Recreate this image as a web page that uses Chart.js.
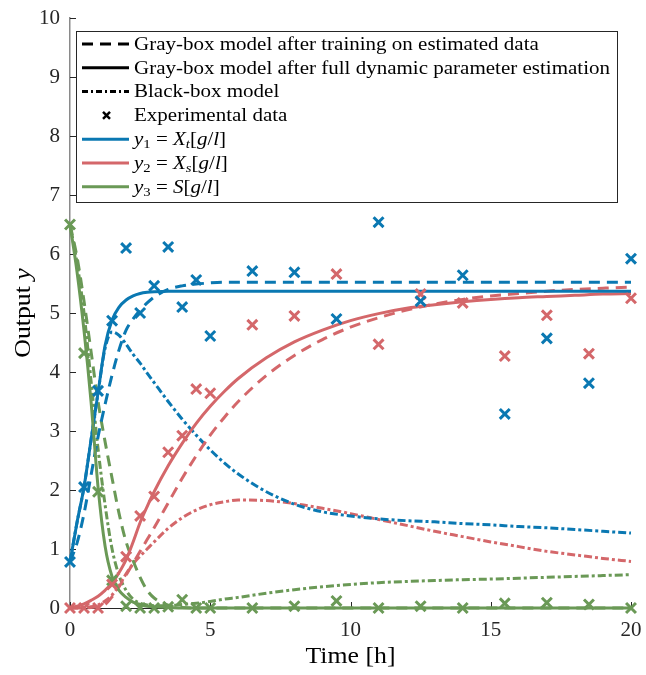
<!DOCTYPE html>
<html>
<head>
<meta charset="utf-8">
<script src="https://cdn.jsdelivr.net/npm/chart.js@4.4.0/dist/chart.umd.min.js"></script>
<style>
  html, body { margin: 0; padding: 0; background: #fff; }
  #wrap { width: 646px; height: 675px; }
</style>
</head>
<body>
<div id="wrap"><canvas id="chart"></canvas></div>
<script>
// Experimental data (time in h, outputs in g/l)
const tData = [0, 0.5, 1, 1.5, 2, 2.5, 3, 3.5, 4, 4.5, 5, 6.5, 8, 9.5, 11, 12.5, 14, 15.5, 17, 18.5, 20];
const y1Data = [0.78, 2.05, 3.68, 4.87, 6.1, 5.0, 5.46, 6.12, 5.1, 5.56, 4.61, 5.71, 5.69, 4.9, 6.54, 5.2, 5.64, 3.29, 4.57, 3.81, 5.92];
const y2Data = [0, 0, 0, 0.4, 0.87, 1.56, 1.89, 2.64, 2.92, 3.71, 3.64, 4.8, 4.95, 5.66, 4.47, 5.32, 5.17, 4.27, 4.96, 4.31, 5.25];
const y3Data = [6.5, 4.32, 1.97, 0.47, 0.03, 0, 0, 0.02, 0.14, 0, 0, 0, 0.03, 0.12, 0, 0.03, 0, 0.08, 0.09, 0.06, 0];

// Model simulations, sampled on one time grid
const tModel = [0, 0.25, 0.5, 0.75, 1, 1.25, 1.5, 1.75, 2, 2.25, 2.5, 2.75, 3, 3.5, 4, 4.5, 5, 5.5, 6, 7, 8, 9, 10, 11, 12, 13, 14, 15, 16, 17, 18, 19, 20];

// gray-box after training on estimated data (dashed)
const y1Train = [0.78, 1.1, 1.6, 2.25, 2.9, 3.45, 3.95, 4.38, 4.71, 4.9, 5.05, 5.17, 5.27, 5.4, 5.46, 5.49, 5.51, 5.52, 5.52, 5.52, 5.52, 5.52, 5.52, 5.52, 5.52, 5.52, 5.52, 5.52, 5.52, 5.52, 5.52, 5.52, 5.52];
const y2Train = [0, 0, 0, 0.01, 0.02, 0.06, 0.19, 0.36, 0.56, 0.76, 0.96, 1.16, 1.36, 1.78, 2.2, 2.58, 2.93, 3.23, 3.5, 3.94, 4.28, 4.55, 4.76, 4.92, 5.05, 5.15, 5.23, 5.29, 5.33, 5.37, 5.4, 5.42, 5.44];
const y3Train = [6.5, 5.95, 5.2, 4.35, 3.5, 2.82, 2.2, 1.6, 1.12, 0.8, 0.52, 0.3, 0.17, 0.05, 0.01, 0, 0, 0, 0, 0, 0, 0, 0, 0, 0, 0, 0, 0, 0, 0, 0, 0, 0];

// gray-box after full dynamic parameter estimation (solid)
const y1Full = [0.78, 1.45, 2.05, 2.85, 3.65, 4.45, 4.88, 5.1, 5.22, 5.29, 5.33, 5.35, 5.36, 5.37, 5.37, 5.37, 5.37, 5.37, 5.37, 5.37, 5.37, 5.37, 5.37, 5.37, 5.37, 5.37, 5.37, 5.37, 5.37, 5.37, 5.37, 5.37, 5.37];
const y2Full = [0, 0.03, 0.07, 0.13, 0.2, 0.3, 0.42, 0.6, 0.82, 1.12, 1.45, 1.72, 1.97, 2.41, 2.79, 3.13, 3.42, 3.67, 3.89, 4.24, 4.51, 4.71, 4.87, 4.99, 5.08, 5.14, 5.19, 5.23, 5.26, 5.28, 5.3, 5.32, 5.33];
const y3Full = [6.5, 5.7, 4.7, 3.5, 2.05, 1.05, 0.53, 0.3, 0.18, 0.1, 0.06, 0.03, 0.02, 0.01, 0, 0, 0, 0, 0, 0, 0, 0, 0, 0, 0, 0, 0, 0, 0, 0, 0, 0, 0];

// black-box model (dash-dot)
const y1Black = [0.78, 1.45, 2.05, 2.85, 3.65, 4.4, 4.68, 4.62, 4.47, 4.3, 4.15, 3.98, 3.82, 3.5, 3.2, 2.93, 2.68, 2.46, 2.27, 1.97, 1.76, 1.63, 1.56, 1.51, 1.48, 1.46, 1.43, 1.41, 1.38, 1.36, 1.33, 1.3, 1.27];
const y2Black = [0, 0, 0.01, 0.02, 0.05, 0.12, 0.22, 0.38, 0.58, 0.75, 0.88, 1.0, 1.12, 1.35, 1.53, 1.66, 1.75, 1.8, 1.83, 1.82, 1.77, 1.69, 1.6, 1.5, 1.4, 1.3, 1.21, 1.12, 1.04, 0.96, 0.9, 0.84, 0.79];
const y3Black = [6.5, 5.85, 5.0, 3.85, 2.7, 1.75, 1.0, 0.55, 0.3, 0.15, 0.08, 0.05, 0.04, 0.04, 0.06, 0.08, 0.11, 0.15, 0.18, 0.25, 0.31, 0.36, 0.4, 0.43, 0.45, 0.465, 0.48, 0.49, 0.505, 0.52, 0.535, 0.55, 0.565];

const xTicks = [0, 5, 10, 15, 20];
const yTicks = [0, 1, 2, 3, 4, 5, 6, 7, 8, 9, 10];

const BLUE = "#0a78b2";
const RED = "#d4676a";
const GREEN = "#6a9956";
const SERIF = '"Liberation Serif", "DejaVu Serif", serif';

const DASHED = [11, 7];
const DASHDOT = [8, 3, 3, 3];

function pts(ts, ys) {
  return ts.map((t, i) => ({ x: t, y: ys[i] }));
}

function modelLine(values, color, dash) {
  return {
    type: "line",
    data: pts(tModel, values),
    borderColor: color,
    borderWidth: 3,
    borderDash: dash,
    pointRadius: 0,
    fill: false,
    cubicInterpolationMode: "monotone",
    clip: false,
  };
}

function expPoints(values, color) {
  return {
    type: "scatter",
    data: pts(tData, values),
    pointStyle: "crossRot",
    pointRadius: 7,
    pointBorderWidth: 3,
    borderColor: color,
    backgroundColor: color,
    showLine: false,
    clip: false,
  };
}

// legend entries: marker style + text pieces
const legendRows = [
  { kind: "line", color: "#000", dash: DASHED, parts: [{ t: "Gray-box model after training on estimated data" }] },
  { kind: "line", color: "#000", dash: [], parts: [{ t: "Gray-box model after full dynamic parameter estimation" }] },
  { kind: "line", color: "#000", dash: [6, 3, 2, 3], parts: [{ t: "Black-box model" }] },
  { kind: "mark", color: "#000", parts: [{ t: "Experimental data" }] },
  { kind: "line", color: BLUE, dash: [], parts: [{ t: "y", it: 1 }, { t: "1", sub: 1 }, { t: " = " }, { t: "X", it: 1 }, { t: "t", it: 1, sub: 1 }, { t: "[" }, { t: "g", it: 1 }, { t: "/" }, { t: "l", it: 1 }, { t: "]" }] },
  { kind: "line", color: RED, dash: [], parts: [{ t: "y", it: 1 }, { t: "2", sub: 1 }, { t: " = " }, { t: "X", it: 1 }, { t: "s", it: 1, sub: 1 }, { t: "[" }, { t: "g", it: 1 }, { t: "/" }, { t: "l", it: 1 }, { t: "]" }] },
  { kind: "line", color: GREEN, dash: [], parts: [{ t: "y", it: 1 }, { t: "3", sub: 1 }, { t: " = " }, { t: "S", it: 1 }, { t: "[" }, { t: "g", it: 1 }, { t: "/" }, { t: "l", it: 1 }, { t: "]" }] },
];

function partsWidth(ctx, parts, size) {
  let w = 0;
  for (const p of parts) {
    const fs = p.sub ? size * 0.7 : size;
    ctx.font = (p.it ? "italic " : "") + fs + "px " + SERIF;
    w += ctx.measureText(p.t).width;
  }
  return w;
}

// draws mixed regular/italic/subscript text, stretched horizontally by sx
function drawParts(ctx, parts, x, y, size, sx) {
  ctx.save();
  ctx.translate(x, y);
  ctx.scale(sx, 1);
  let cx = 0;
  for (const p of parts) {
    const fs = p.sub ? size * 0.7 : size;
    ctx.font = (p.it ? "italic " : "") + fs + "px " + SERIF;
    ctx.fillText(p.t, cx, p.sub ? size * 0.25 : 0);
    cx += ctx.measureText(p.t).width;
  }
  ctx.restore();
}

const decorPlugin = {
  id: "decor",
  beforeDatasetsDraw(chart) {
    const { ctx, chartArea, scales } = chart;
    ctx.save();
    ctx.strokeStyle = "#262626";
    ctx.lineWidth = 1;
    ctx.beginPath();
    yTicks.forEach((v) => {
      const py = Math.round(scales.y.getPixelForValue(v)) + 0.5;
      ctx.moveTo(chartArea.left, py);
      ctx.lineTo(chartArea.left + 6, py);
    });
    xTicks.forEach((v) => {
      const px = Math.round(scales.x.getPixelForValue(v)) + 0.5;
      ctx.moveTo(px, chartArea.bottom);
      ctx.lineTo(px, chartArea.bottom - 6);
    });
    ctx.stroke();
    ctx.restore();
  },
  afterDraw(chart) {
    const { ctx, chartArea } = chart;
    ctx.save();
    ctx.fillStyle = "#000";
    ctx.textBaseline = "middle";
    ctx.textAlign = "left";

    // x title
    const xParts = [{ t: "Time [h]" }];
    const xs = 1.12;
    const xw = partsWidth(ctx, xParts, 23) * xs;
    drawParts(ctx, xParts, (chartArea.left + chartArea.right) / 2 - xw / 2, 657, 23, xs);

    // y title
    ctx.save();
    ctx.translate(24, 313);
    ctx.rotate(-Math.PI / 2);
    const yParts = [{ t: "Output " }, { t: "y", it: 1 }];
    const yw = partsWidth(ctx, yParts, 23) * xs;
    drawParts(ctx, yParts, -yw / 2, 0, 23, xs);
    ctx.restore();

    // legend box
    const bx = 76, by = 31, bw = 541, bh = 171;
    ctx.fillStyle = "#fff";
    ctx.fillRect(bx, by, bw, bh);
    ctx.strokeStyle = "#262626";
    ctx.lineWidth = 1;
    ctx.strokeRect(bx + 0.5, by + 0.5, bw, bh);

    const lsize = 18;
    const lstretch = 476 / partsWidth(ctx, legendRows[1].parts, lsize);
    legendRows.forEach((row, i) => {
      const cy = 44 + i * 23.8;
      ctx.strokeStyle = row.color;
      ctx.fillStyle = row.color;
      if (row.kind === "line") {
        ctx.lineWidth = 3;
        ctx.setLineDash(row.dash);
        ctx.beginPath();
        ctx.moveTo(82, cy);
        ctx.lineTo(129, cy);
        ctx.stroke();
        ctx.setLineDash([]);
      } else {
        ctx.lineWidth = 2.5;
        ctx.beginPath();
        ctx.moveTo(103, cy - 3.5);
        ctx.lineTo(110, cy + 3.5);
        ctx.moveTo(110, cy - 3.5);
        ctx.lineTo(103, cy + 3.5);
        ctx.stroke();
      }
      ctx.fillStyle = "#000";
      drawParts(ctx, row.parts, 134, cy + 1, lsize, lstretch);
    });
    ctx.restore();
  },
};

// drop the automatic label overhang so the plot box lands where the layout padding says
function noOverhang(scale) {
  scale.paddingTop = 0;
  scale.paddingBottom = 0;
  scale.paddingLeft = 0;
  scale.paddingRight = 0;
}

const ctx = document.getElementById("chart").getContext("2d");
new Chart(ctx, {
  data: {
    datasets: [
      expPoints(y1Data, BLUE),
      expPoints(y2Data, RED),
      expPoints(y3Data, GREEN),
      modelLine(y3Full, GREEN, []),
      modelLine(y1Full, BLUE, []),
      modelLine(y2Full, RED, []),
      modelLine(y1Train, BLUE, DASHED),
      modelLine(y2Train, RED, DASHED),
      modelLine(y3Train, GREEN, DASHED),
      modelLine(y1Black, BLUE, DASHDOT),
      modelLine(y2Black, RED, DASHDOT),
      modelLine(y3Black, GREEN, DASHDOT),
    ],
  },
  options: {
    responsive: true,
    maintainAspectRatio: false,
    animation: false,
    layout: { padding: { top: 18, right: 15, bottom: 0, left: 0 } },
    plugins: {
      legend: { display: false },
      tooltip: { enabled: false },
    },
    scales: {
      x: {
        type: "linear",
        min: 0,
        max: 20,
        afterFit: (scale) => { scale.height = 67; noOverhang(scale); },
        afterBuildTicks: (scale) => { scale.ticks = xTicks.map((v) => ({ value: v })); },
        grid: { display: false, drawTicks: false },
        border: { display: true, color: "#262626", width: 1 },
        ticks: {
          color: "#262626",
          padding: 10,
          maxRotation: 0,
          font: { family: SERIF, size: 21 },
        },
      },
      y: {
        type: "linear",
        min: 0,
        max: 10,
        afterFit: (scale) => { scale.width = 70; noOverhang(scale); },
        afterBuildTicks: (scale) => { scale.ticks = yTicks.map((v) => ({ value: v })); },
        grid: { display: false, drawTicks: false },
        border: { display: true, color: "#8a8a8a", width: 1.5 },
        ticks: {
          color: "#262626",
          padding: 10,
          font: { family: SERIF, size: 21 },
        },
      },
    },
  },
  plugins: [decorPlugin],
});
</script>
</body>
</html>
